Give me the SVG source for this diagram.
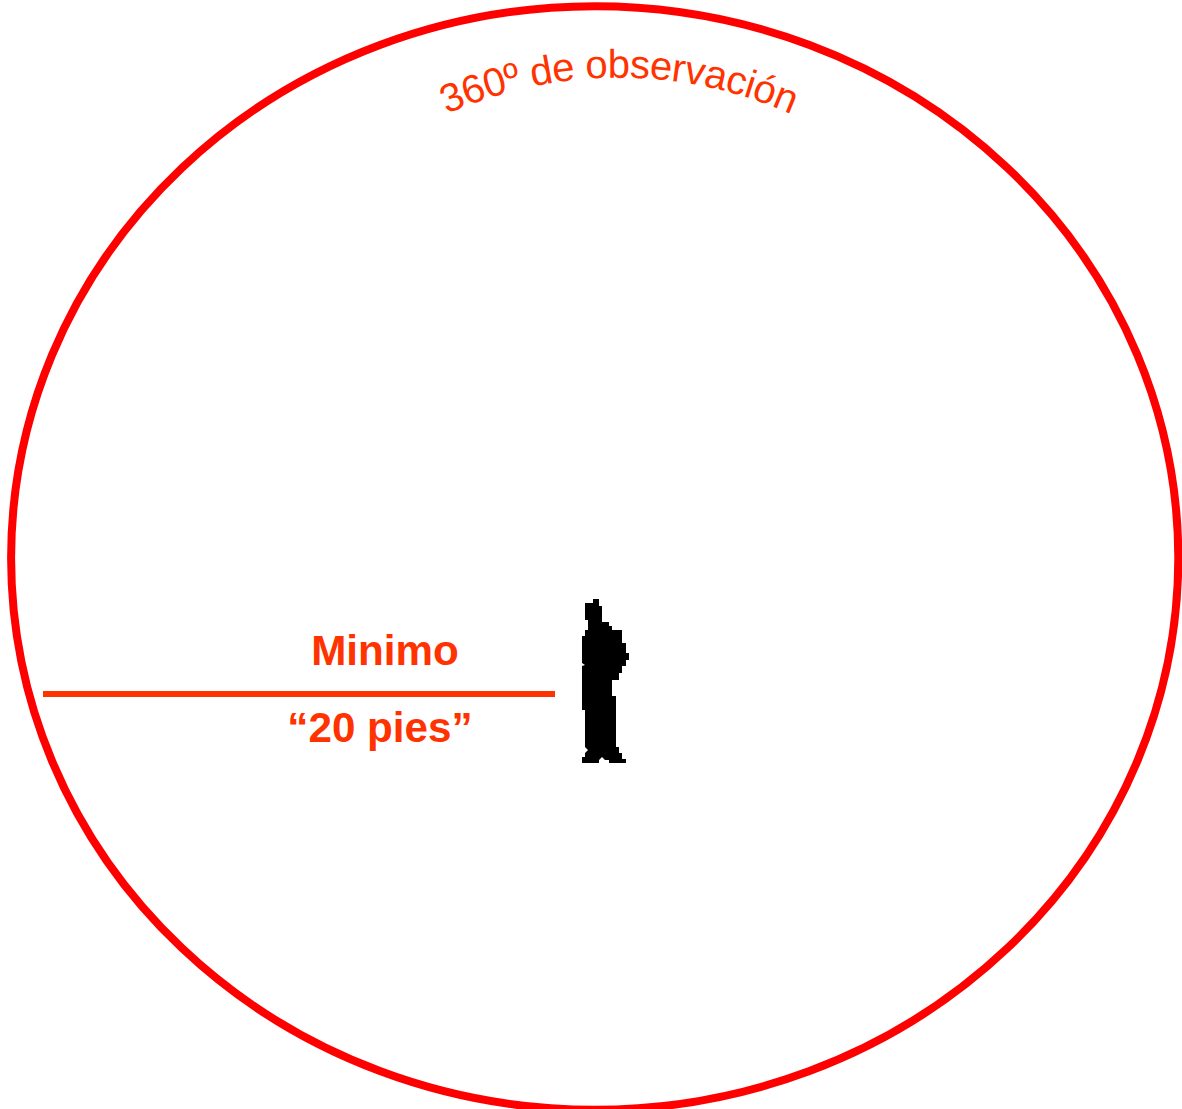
<svg xmlns="http://www.w3.org/2000/svg" width="1182" height="1109" viewBox="0 0 1182 1109">
<style>
.lbl{font-family:"Liberation Sans",Arial,sans-serif;fill:#ff3300}
.b{font-weight:bold;font-size:42.2px;text-anchor:middle}
</style>
<defs><path id="arc" d="M 430 122 A 425 425 0 0 1 808 122"/></defs>
<rect width="1182" height="1109" fill="#fff"/>
<g id="circle"><ellipse cx="594.7" cy="558" rx="583.6" ry="551.8" fill="none" stroke="#ff0000" stroke-width="8"/></g>
<g id="arc-label"><text class="lbl" font-size="40" letter-spacing="-0.5"><textPath href="#arc" startOffset="50%" text-anchor="middle">360º de observación</textPath></text></g>
<g id="distance">
<rect x="43" y="691" width="512" height="6" fill="#ff3300"/>
<text class="lbl b" x="385" y="665">Minimo</text>
<text class="lbl b" x="380" y="742">“20 pies”</text>
</g>
<g id="person"><polygon fill="#000" points="585,603 593,603 593,599 599,599 599,606 602,606 602,622 609,622 609,626 612,626 612,630 622,630 622,643 626,643 626,653 629,653 629,660 626,660 626,666 622,666 622,673 619,673 619,680 612,680 612,696 616,696 616,747 619,747 619,753 622,753 622,759 626,759 626,763 609,763 609,760 605,760 602,757 599,760 599,763 582,763 582,757 585,757 585,753 588,750 585,747 585,710 582,710 582,666 585,665 582,663 582,636 585,636 585,630 588,630 588,620 585,620"/></g>
</svg>
